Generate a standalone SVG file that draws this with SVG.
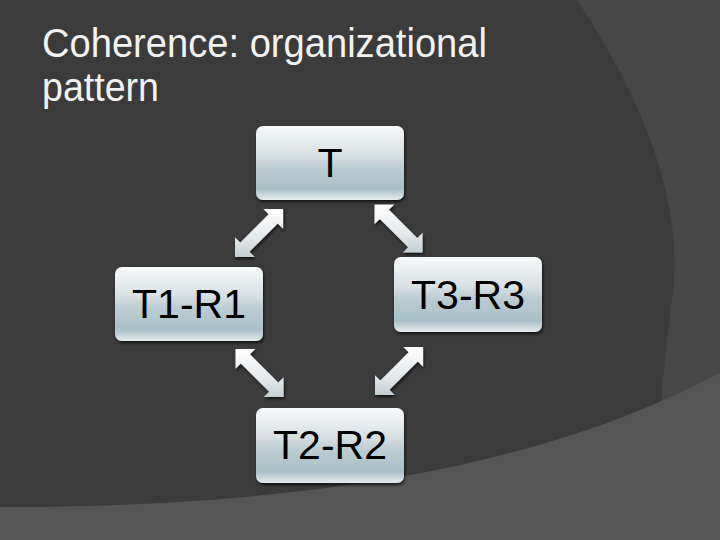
<svg xmlns="http://www.w3.org/2000/svg" width="720" height="540" viewBox="0 0 720 540">
  <defs>
    <linearGradient id="boxGrad" x1="0" y1="0" x2="0" y2="1">
      <stop offset="0" stop-color="#f8fafb"/>
      <stop offset="0.4" stop-color="#d7dfe2"/>
      <stop offset="0.55" stop-color="#bccdd3"/>
      <stop offset="0.85" stop-color="#a8bfc7"/>
      <stop offset="1" stop-color="#e6ecee"/>
    </linearGradient>
    <linearGradient id="arrowGrad" x1="0" y1="0" x2="0" y2="1">
      <stop offset="0" stop-color="#ffffff"/>
      <stop offset="0.6" stop-color="#e4e9eb"/>
      <stop offset="1" stop-color="#c4cfd3"/>
    </linearGradient>
    <filter id="shadow" x="-20%" y="-20%" width="140%" height="140%">
      <feDropShadow dx="1" dy="2" stdDeviation="1.5" flood-color="#000000" flood-opacity="0.7"/>
    </filter>
  </defs>
  <style>
    .box { fill: url(#boxGrad); filter: url(#shadow); }
    .lbl { font-family: "Liberation Sans", Arial, sans-serif; font-size: 41px; fill: #000000; text-anchor: middle; }
    .arrow { fill: url(#arrowGrad); filter: url(#shadow); }
    .title { font-family: "Liberation Sans", Arial, sans-serif; font-size: 40px; fill: #f2f2f2; }
  </style>

  <!-- background -->
  <rect x="0" y="0" width="720" height="540" fill="#3b3b3b"/>
  <path d="M577,0 Q690,170 672,300 Q663,365 658,450 L720,450 L720,0 Z" fill="#474747"/>
  <path d="M0,507 C420,507 610,430 720,373 L720,540 L0,540 Z" fill="#555555"/>

  <!-- title -->
  <text class="title" x="42" y="57" textLength="445" lengthAdjust="spacingAndGlyphs">Coherence: organizational</text>
  <text class="title" x="42" y="101" textLength="117" lengthAdjust="spacingAndGlyphs">pattern</text>

  <!-- connectors -->
  <g id="connectors">
    <path class="arrow" d="M235,257 l0,-19.8 l5.3,5.3 l28.3,-28.3 l-5.3,-5.3 l19.8,0 l0,19.8 l-5.3,-5.3 l-28.3,28.3 l5.3,5.3 z"/>
    <path class="arrow" d="M374.5,204.5 l0,19.8 l5.3,-5.3 l28.3,28.3 l-5.3,5.3 l19.8,0 l0,-19.8 l-5.3,5.3 l-28.3,-28.3 l5.3,-5.3 z"/>
    <path class="arrow" d="M235.5,349 l0,19.8 l5.3,-5.3 l28.3,28.3 l-5.3,5.3 l19.8,0 l0,-19.8 l-5.3,5.3 l-28.3,-28.3 l5.3,-5.3 z"/>
    <path class="arrow" d="M375,395 l0,-19.8 l5.3,5.3 l28.3,-28.3 l-5.3,-5.3 l19.8,0 l0,19.8 l-5.3,-5.3 l-28.3,28.3 l5.3,5.3 z"/>
  </g>

  <!-- nodes -->
  <g id="node-T">
    <rect class="box" x="256" y="126" width="148" height="74" rx="7"/>
    <text class="lbl" x="330" y="177">T</text>
  </g>
  <g id="node-T1-R1">
    <rect class="box" x="115" y="267" width="148" height="74" rx="7"/>
    <text class="lbl" x="189" y="318">T1-R1</text>
  </g>
  <g id="node-T3-R3">
    <rect class="box" x="394" y="257" width="148" height="75" rx="7"/>
    <text class="lbl" x="468" y="309">T3-R3</text>
  </g>
  <g id="node-T2-R2">
    <rect class="box" x="256" y="408" width="148" height="75" rx="7"/>
    <text class="lbl" x="330" y="459">T2-R2</text>
  </g>
</svg>
